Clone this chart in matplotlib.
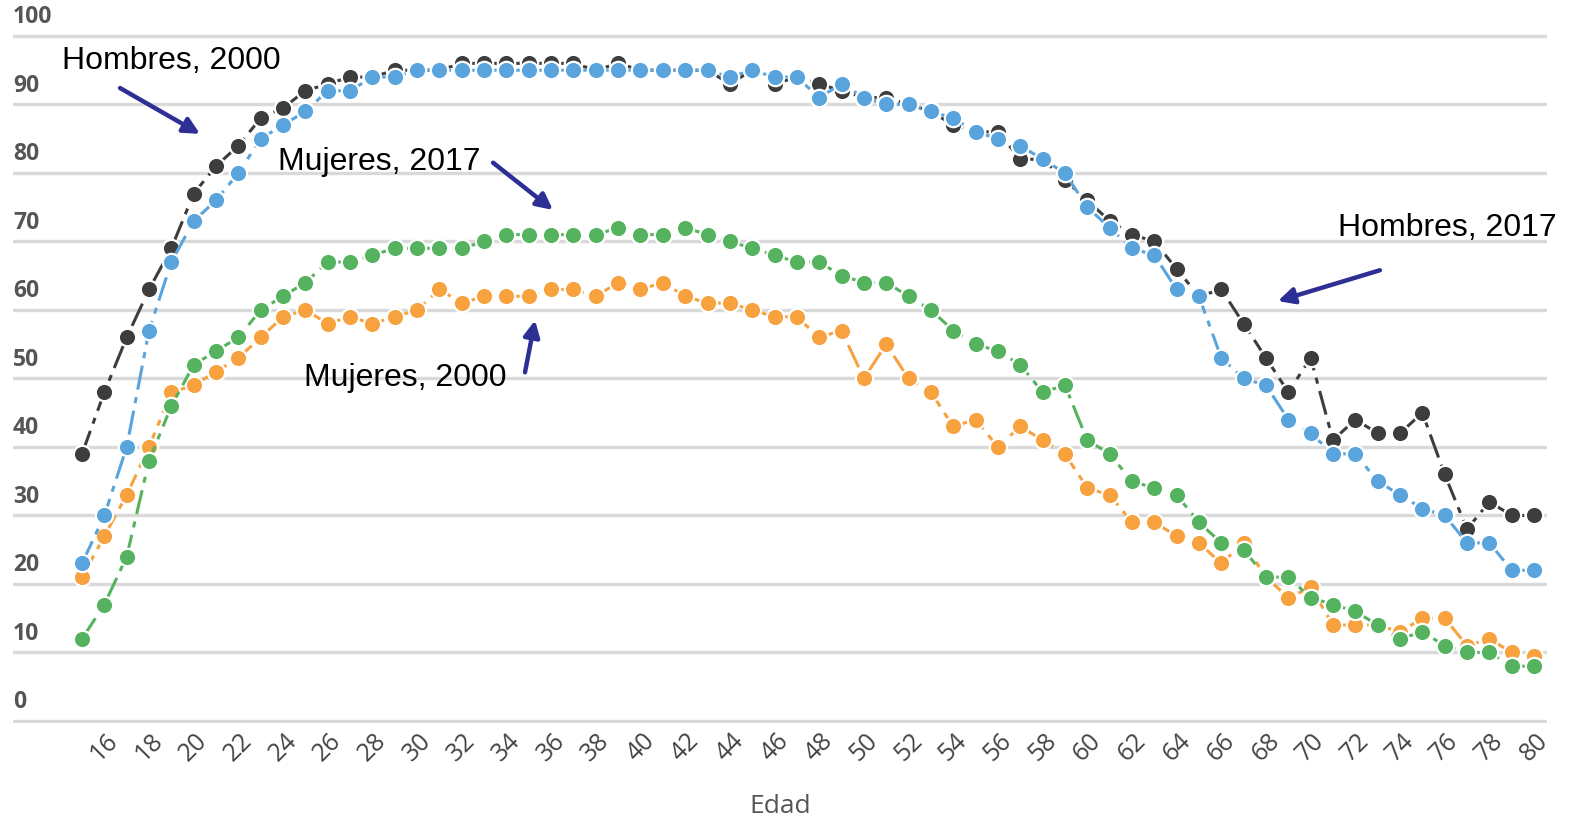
import matplotlib
matplotlib.use("Agg")
import matplotlib.pyplot as plt
import numpy as np

# edades 15..80
edades = list(range(15, 81))

hombres_2017 = [39, 48, 56, 63, 69, 77, 81, 84, 88, 89.5, 92, 93, 94, 94, 95, 95, 95,
                96, 96, 96, 96, 96, 96, 95, 96, 95, 95, 95, 95, 93, 95, 93, 94, 93,
                92, 91, 91, 90, 89, 87, 86, 86, 82, 82, 79, 76, 73, 71, 70, 66, 62,
                63, 58, 53, 48, 53, 41, 44, 42, 42, 45, 36, 28, 32, 30, 30]
hombres_2000 = [23, 30, 40, 57, 67, 73, 76, 80, 85, 87, 89, 92, 92, 94, 94, 95, 95,
                95, 95, 95, 95, 95, 95, 95, 95, 95, 95, 95, 95, 94, 95, 94, 94, 91,
                93, 91, 90, 90, 89, 88, 86, 85, 84, 82, 80, 75, 72, 69, 68, 63, 62,
                53, 50, 49, 44, 42, 39, 39, 35, 33, 31, 30, 26, 26, 22, 22]
mujeres_2000 = [21, 27, 33, 40, 48, 49, 51, 53, 56, 59, 60, 58, 59, 58, 59, 60, 63,
                61, 62, 62, 62, 63, 63, 62, 64, 63, 64, 62, 61, 61, 60, 59, 59, 56,
                57, 50, 55, 50, 48, 43, 44, 40, 43, 41, 39, 34, 33, 29, 29, 27, 26,
                23, 26, 21, 18, 19.5, 14, 14, 14, 13, 15, 15, 11, 12, 10, 9.5]
mujeres_2017 = [12, 17, 24, 38, 46, 52, 54, 56, 60, 62, 64, 67, 67, 68, 69, 69, 69,
                69, 70, 71, 71, 71, 71, 71, 72, 71, 71, 72, 71, 70, 69, 68, 67, 67,
                65, 64, 64, 62, 60, 57, 55, 54, 52, 48, 49, 41, 39, 35, 34, 33, 29,
                26, 25, 21, 21, 18, 17, 16, 14, 12, 13, 11, 10, 10, 8, 8]

series = [
    (hombres_2017, '#3d3d3d', 2),
    (mujeres_2000, '#f8a13f', 3),
    (mujeres_2017, '#55b35f', 4),
    (hombres_2000, '#5aa4de', 5),
]

plt.rcParams['font.family'] = ['Open Sans', 'DejaVu Sans']

fig = plt.figure(figsize=(15.74, 8.19), dpi=100)
ax = fig.add_axes([13 / 1574, 1 - 723.05 / 819, 1534 / 1574, (723.05 - 33.9) / 819])

for vals, color, z in series:
    ax.plot(edades, vals, color=color, lw=2.2, dashes=(8, 2.5, 2, 2.5), marker='o',
            markersize=12.5, markerfacecolor=color, markeredgecolor='white',
            markeredgewidth=1.6, zorder=z)

ax.set_xlim(11.91, 80.58)
ax.set_ylim(-0.3, 100.3)
ax.set_yticks(range(0, 101, 10))
ax.set_yticklabels([])
ax.tick_params(axis='y', length=0)
ax.yaxis.grid(True, color='#d9d9d9', lw=2.4)
ax.set_axisbelow(True)
for s in ax.spines.values():
    s.set_visible(False)

for v in range(0, 101, 10):
    ax.text(0.0, v + 1.0, str(v), transform=ax.get_yaxis_transform(), ha='left',
            va='bottom', fontsize=16.5, fontweight='bold', color='#555555')

ax.set_xticks(range(16, 81, 2))
ax.set_xticklabels([str(t) for t in range(16, 81, 2)], rotation=45, ha='center',
                   fontsize=18, color='#444444')
ax.tick_params(axis='x', length=0, pad=4)
ax.set_xlabel('Edad', fontsize=19, color='#555555', labelpad=20)

# anotaciones
navy = '#2e2f94'
arrow_kw = dict(arrowstyle='-|>', color=navy, lw=3.2, mutation_scale=24, shrinkA=0, shrinkB=0)
txt_kw = dict(fontsize=23, family='Liberation Sans', color='black', va='center', ha='left')

ax.text(14.10, 96.35, 'Hombres, 2000', **txt_kw)
ax.annotate('', xy=(20.28, 85.7), xytext=(16.70, 92.4), arrowprops=arrow_kw)

ax.text(23.77, 81.6, 'Mujeres, 2017', **txt_kw)
ax.annotate('', xy=(36.08, 74.6), xytext=(33.40, 81.5), arrowprops=arrow_kw)

ax.text(71.22, 72.0, 'Hombres, 2017', **txt_kw)
ax.annotate('', xy=(68.53, 61.3), xytext=(73.10, 65.8), arrowprops=arrow_kw)

ax.text(24.94, 50.1, 'Mujeres, 2000', **txt_kw)
ax.annotate('', xy=(35.28, 58.5), xytext=(34.83, 50.9), arrowprops=arrow_kw)

fig.savefig('out.png', dpi=100)
